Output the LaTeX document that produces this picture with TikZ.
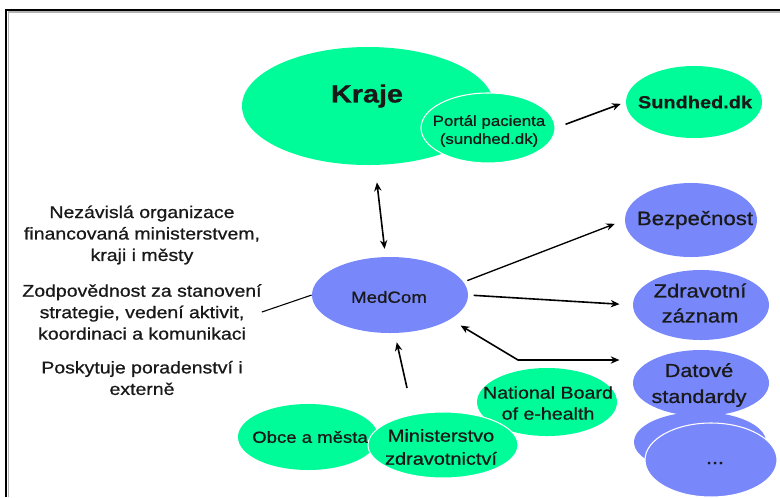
\documentclass[tikz,border=0pt]{standalone}
\usepackage{fontspec}
\setmainfont{Liberation Sans}[FakeStretch=1.15,FakeBold=0.8]
\usetikzlibrary{shapes.geometric,arrows.meta,calc}
\definecolor{mgreen}{RGB}{0,252,152}
\definecolor{mblue}{RGB}{120,136,250}
\tikzset{
  ell/.style={ellipse, inner sep=0pt},
  gre/.style={ell, fill=mgreen},
  blu/.style={ell, fill=mblue},
  wedge/.style={draw=white, line width=0.8pt},
  txt/.style={inner sep=0pt, align=center, text=black!90},
  conn/.style={line width=1.2pt, -{Stealth[length=6.5pt,width=5.5pt]}},
  biconn/.style={line width=1.2pt, {Stealth[length=6.5pt,width=5.5pt]}-{Stealth[length=6.5pt,width=5.5pt]}},
}
\begin{document}
\begin{tikzpicture}[x=0.75pt,y=-0.75pt]
\useasboundingbox (0,0) rectangle (780,497);
% frame
\draw[gray!60, line width=0.8pt] (8.5,497) -- (8.5,12) -- (780,12);
\draw[black, line width=1.5pt] (6,497) -- (6,10) -- (780,10);

% ellipses
\node[gre, minimum width=189pt, minimum height=88.5pt] (kraje) at (368,106) {};
\node[gre, wedge, fill=mgreen, minimum width=100.5pt, minimum height=52.5pt] (portal) at (488,128) {};
\node[gre, minimum width=102pt, minimum height=54pt] (sundhed) at (694,102) {};
\node[blu, minimum width=117pt, minimum height=57pt] (medcom) at (390,295) {};
\node[blu, minimum width=99pt, minimum height=55.5pt] (bezp) at (691,220) {};
\node[blu, minimum width=102pt, minimum height=52.5pt] (zdrav) at (701,305) {};
\node[blu, minimum width=102pt, minimum height=49.5pt] (datove) at (701,383) {};
\node[blu, minimum width=99pt, minimum height=45pt] (etcback) at (700,442) {};
\node[blu, wedge, fill=mblue, minimum width=99pt, minimum height=55.5pt] (etc) at (711,460) {};
\node[gre, minimum width=105pt, minimum height=51pt] (natboard) at (547,402) {};
\node[gre, minimum width=105pt, minimum height=49.5pt] (obce) at (308,437) {};
\node[gre, wedge, fill=mgreen, minimum width=112.5pt, minimum height=49.5pt] (minist) at (443,445) {};

% texts in ellipses
\node[txt, font=\fontsize{18.75pt}{20pt}\selectfont\bfseries] (kraje-t) at (367,96) {Kraje};
\node[txt, font=\fontsize{11pt}{13.5pt}\selectfont] (portal-t) at (489,131) {Portál pacienta\\(sundhed.dk)};
\node[txt, font=\fontsize{13pt}{15pt}\selectfont\bfseries] (sundhed-t) at (695,102) {Sundhed.dk};
\node[txt, font=\fontsize{12.2pt}{14pt}\selectfont] (medcom-t) at (389,297) {MedCom};
\node[txt, font=\fontsize{14.5pt}{16pt}\selectfont] (bezp-t) at (695,220) {Bezpečnost};
\node[txt, font=\fontsize{14.3pt}{18.75pt}\selectfont] (zdrav-t) at (700,303) {Zdravotní\\záznam};
\node[txt, font=\fontsize{14.1pt}{19.5pt}\selectfont] (datove-t) at (699,385) {Datové\\standardy};
\node[txt, font=\fontsize{14pt}{16pt}\selectfont] (etc-t) at (715,463) {...};
\node[txt, font=\fontsize{12.8pt}{15.75pt}\selectfont] (natboard-t) at (548,403) {National Board\\of e-health};
\node[txt, font=\fontsize{13pt}{17.25pt}\selectfont] (minist-t) at (441,447) {Ministerstvo\\zdravotnictví};
\node[txt, font=\fontsize{12.1pt}{14pt}\selectfont] (obce-t) at (310,437) {Obce a města};

% left description
\node[txt, font=\fontsize{12.7pt}{16.1pt}\selectfont] (desc1) at (142,235) {Nezávislá organizace\\financovaná ministerstvem,\\kraji i městy};
\node[txt, font=\fontsize{12.7pt}{16.1pt}\selectfont] (desc2) at (142,312) {Zodpovědnost za stanovení\\strategie, vedení aktivit,\\koordinaci a komunikaci};
\node[txt, font=\fontsize{12.7pt}{16.1pt}\selectfont] (desc3) at (142,378) {Poskytuje poradenství i\\externě};

% connectors
\draw[line width=0.8pt] (desc2.east) -- (medcom.west);
\draw[biconn, shorten <=13pt, shorten >=6pt] (kraje) -- (medcom);
\draw[conn, shorten <=8pt, shorten >=4pt] (portal.east) -- (sundhed.west);
\draw[conn, line width=1pt, shorten <=3pt, shorten >=8pt] (medcom.10) -- (bezp.west);
\draw[conn, shorten <=4pt, shorten >=10pt] (medcom.east) -- (zdrav.west);
\coordinate (elbow) at (518,360);
\draw[biconn, shorten <=9pt, shorten >=10pt] (medcom.-22) -- (elbow) -- (elbow -| datove.west);
\coordinate (mtail) at (407,388);
\draw[conn, shorten >=7pt] (mtail) -- (medcom.-83);
\end{tikzpicture}
\end{document}
